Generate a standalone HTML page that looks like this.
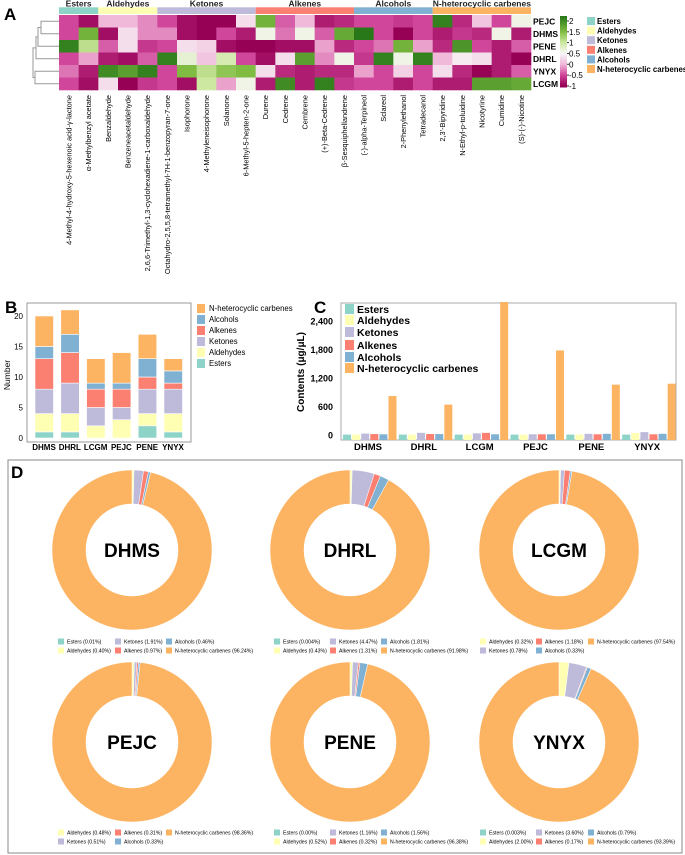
<!DOCTYPE html>
<html><head><meta charset="utf-8">
<style>
html,body{margin:0;padding:0;background:#fff;}
svg{display:block;font-family:"Liberation Sans",Arial,sans-serif;}
</style></head>
<body>
<svg id="fig" width="685" height="855" viewBox="0 0 685 855" xmlns="http://www.w3.org/2000/svg">
<text x="4" y="20" font-size="17" font-weight="bold">A</text>
<text x="5" y="313" font-size="17" font-weight="bold">B</text>
<text x="314" y="313" font-size="17" font-weight="bold">C</text>
<rect x="8" y="460" width="674" height="393" fill="none" stroke="#888" stroke-width="1"/>
<text x="11" y="478" font-size="17" font-weight="bold">D</text>
<g id="gA"></g><g id="gB"></g><g id="gC"></g><g id="gD"></g>
</svg>
<script>
// ---------- shared ----------
const classNames = ["Esters","Aldehydes","Ketones","Alkenes","Alcohols","N-heterocyclic carbenes"];
const classColors = ["#8dd3c7","#ffffb3","#bebada","#fb8072","#80b1d3","#fdb462"];
const samples = ["DHMS","DHRL","LCGM","PEJC","PENE","YNYX"];

// ---------- A: heatmap ----------
const hmRows = ["PEJC","DHMS","PENE","DHRL","YNYX","LCGM"];
const hmCols = ["4-Methyl-4-hydroxy-5-hexenoic acid-γ-lactone","α-Methylbenzyl acetate","Benzaldehyde","Benzeneacetaldehyde","2,6,6-Trimethyl-1,3-cyclohexadiene-1-carboxaldehyde","Octahydro-2,5,5,8-tetramethyl-7H-1-benzopyran-7-one","Isophorone","4-Methyleneisophorone","Solanone","6-Methyl-5-hepten-2-one","Durene","Cedrene","Cembrene","(+)-Beta-Cedrene","β-Sesquiphellandrene","(-)-alpha-Terpineol","Sclareol","2-Phenylethanol","Tetradecanol","2,3'-Bipyridine","N-Ethyl-p-toluidine","Nicotyrine","Cumidine","(S)-(-)-Nicotine"];
const hmColClass = [0,0,1,1,1,2,2,2,2,2,3,3,3,3,3,4,4,4,4,5,5,5,5,5];
const hmPEJC = [-0.5,-0.9,0,0,-0.2,-0.5,-0.9,-1,-1,0.3,1.6,-0.4,0,-0.8,-0.7,-0.5,-0.5,-0.6,-0.5,2.1,-0.7,0.1,-0.5,0.6];
const hmDHMS = [-0.5,1.6,-0.9,0.3,-0.2,-0.2,-0.9,-1,-0.5,-0.8,0.6,-0.3,0.6,-0.4,1.7,2.2,-0.5,-1,-0.5,-0.8,-0.6,-0.7,0.6,-0.8];
const hmPENE = [2.1,1.1,-0.4,0.3,-0.6,-0.5,0.3,0.2,-0.9,-1,-1,-0.9,-0.9,-0.1,-0.7,-0.5,-0.3,1.6,-0.1,-0.7,1.9,-0.5,-0.8,-0.4];
const hmDHRL = [-0.5,-0.1,-0.8,-0.9,-0.4,2.1,0.7,0.1,0.9,-0.5,-0.9,0.3,1.8,-0.2,0.6,-0.6,2.1,0.6,2.1,0,0.4,0.3,-0.8,-1];
const hmYNYX = [-0.3,-0.8,2,1.8,2.1,-0.5,1.5,1.1,1.4,1.5,0.3,-0.7,-0.8,-0.7,-0.7,-0.1,-0.5,0.2,-0.5,0.3,-0.7,-1,-0.8,-0.4];
const hmLCGM = [-0.5,-0.9,0.3,-1,-0.6,-0.5,-0.9,1,-0.1,0.6,-0.8,2,-0.8,2.1,-0.6,-0.5,-0.5,-0.8,-0.5,-0.8,-0.8,1.8,1.8,1.7];
const hmTicks = [2,1.5,1,0.5,0,-0.5,-1];

// ---------- B: stacked counts ----------
const cntEsters = [1,1,0,0,2,1];
const cntAldehydes = [3,3,2,3,2,3];
const cntKetones = [4,5,3,2,4,4];
const cntAlkenes = [5,5,3,3,2,1];
const cntAlcohols = [2,3,1,1,3,2];
const cntNhet = [5,4,4,5,4,2];
const bTicks = [0,5,10,15,20];

// ---------- C: contents ----------
const conEsters = [8,8,8,8,8,8];
const conAldehydes = [8,8,10,8,10,40];
const conKetones = [30,45,35,15,25,60];
const conAlkenes = [20,20,45,15,15,15];
const conAlcohols = [15,20,15,15,25,25];
const conNhet = [820,640,2800,1780,1060,1080];
const cTicks = [0,600,1200,1800,2400];

// ---------- D: donuts ----------
const dNames = ["DHMS","DHRL","LCGM","PEJC","PENE","YNYX"];
const pctDHMS = [0.01,0.40,1.91,0.97,0.46,96.24];
const pctDHRL = [0.004,0.43,4.47,1.31,1.81,91.98];
const pctLCGM = [0,0.32,0.78,1.18,0.33,97.54];
const pctPEJC = [0,0.48,0.51,0.31,0.33,98.36];
const pctPENE = [0.00,0.52,1.16,0.32,1.56,96.38];
const pctYNYX = [0.003,2.00,3.60,0.17,0.79,93.39];

const NS="http://www.w3.org/2000/svg";
function mk(parent,tag,attrs,text){const e=document.createElementNS(NS,tag);for(const k in attrs)e.setAttribute(k,attrs[k]);if(text!==undefined)e.textContent=text;parent.appendChild(e);return e;}

const cmStops=[[-1,[150,0,85]],[-0.5,[208,70,155]],[0,[240,185,218]],[0.5,[247,247,247]],[1,[205,232,160]],[1.5,[127,188,65]],[2.2,[40,120,25]]];
function cmap(v){if(v<=cmStops[0][0])return `rgb(${cmStops[0][1]})`;for(let i=1;i<cmStops.length;i++){if(v<=cmStops[i][0]){const a=cmStops[i-1],b=cmStops[i];const t=(v-a[0])/(b[0]-a[0]);const c=a[1].map((x,j)=>Math.round(x+(b[1][j]-x)*t));return `rgb(${c})`;}}return `rgb(${cmStops[cmStops.length-1][1]})`;}

// ---- Panel A ----
(function(){
const g=document.getElementById('gA');
const hm=[hmPEJC,hmDHMS,hmPENE,hmDHRL,hmYNYX,hmLCGM];
const x0=59,x1=531,y0=15,y1=90;
const cw=(x1-x0)/hmCols.length, rh=(y1-y0)/hmRows.length;
const xc=i=>x0+i*cw, yr=i=>y0+i*rh;
let start=0;
for(let c=0;c<classNames.length;c++){
  let n=hmColClass.filter(v=>v===c).length;
  const r=mk(g,'rect',{x:xc(start),y:7.3,width:n*cw,height:6.7,fill:classColors[c]});
  
  
  const t=mk(g,'text',{x:xc(start)+n*cw/2,y:6.5,'font-size':8.5,'text-anchor':'middle','font-weight':'bold',fill:'#222'},classNames[c]);
  
  
  start+=n;
}
hm.forEach((row,ri)=>{row.forEach((v,ci)=>{
  const r=mk(g,'rect',{x:xc(ci),y:yr(ri),width:cw+0.3,height:rh+0.3,fill:cmap(v)});
  
  
});
  const t=mk(g,'text',{x:x1+2,y:yr(ri)+rh/2+3,'font-size':8.5,'font-weight':'bold'},hmRows[ri]);
  
  
});
hmCols.forEach((c,ci)=>{
  const x=xc(ci)+cw/2+2.6;
  const t=mk(g,'text',{x:x,y:95,'font-size':7.4,'text-anchor':'end',transform:`rotate(-90 ${x} 95)`},c);
  
  
});
const ym=i=>yr(i)+rh/2;
const dg=mk(g,'g',{stroke:'#999','stroke-width':1,fill:'none'});


const a=(ym(0)+ym(1))/2, b=(a+ym(2))/2, c2=(b+ym(3))/2, d=(ym(4)+ym(5))/2;
mk(dg,'path',{d:`M59 ${ym(0)}H41V${ym(1)}H59 M41 ${a}H38V${ym(2)}H59 M38 ${b}H36V${ym(3)}H59 M59 ${ym(4)}H35V${ym(5)}H59 M36 ${c2}H33V${d}H35`});
const cbx=560,cby0=16,cby1=87,vmin=-1.05,vmax=2.23;
const cy=v=>cby1-(v-vmin)/(vmax-vmin)*(cby1-cby0);
for(let i=0;i<60;i++){const v=vmin+(vmax-vmin)*i/60;const r=mk(g,'rect',{x:cbx,y:cy(v+(vmax-vmin)/60),width:7,height:(cby1-cby0)/60+0.5,fill:cmap(v)});}
hmTicks.forEach(v=>{const t=mk(g,'text',{x:cbx+9,y:cy(v)+3,'font-size':8},String(v));mk(g,'line',{x1:cbx+7,x2:cbx+9,y1:cy(v),y2:cy(v),stroke:'#333'});});
classNames.forEach((n,i)=>{const y=17+i*9.6;const r=mk(g,'rect',{x:587,y:y,width:8,height:8,fill:classColors[i]});const t=mk(g,'text',{x:597,y:y+7,'font-size':7.8,'font-weight':'bold'},n);});
})();

// ---- Panel B ----
(function(){
const g=document.getElementById('gB');
const fx0=27,fx1=191,fy0=303,fy1=442;
const y=v=>438-v*(438-316)/20;
mk(g,'rect',{x:fx0,y:fy0,width:fx1-fx0,height:fy1-fy0,fill:'none',stroke:'#999'});
bTicks.forEach(v=>{const t=mk(g,'text',{x:fx0-4,y:y(v)+3,'font-size':8,'text-anchor':'end'},String(v));});
const yt=mk(g,'text',{x:10,y:375,'font-size':8.5,'text-anchor':'middle',transform:'rotate(-90 10 375)'},'Number');

const series=[cntEsters,cntAldehydes,cntKetones,cntAlkenes,cntAlcohols,cntNhet];
const bx=i=>35+i*25.8;
samples.forEach((s,i)=>{let acc=0;series.forEach((ser,k)=>{const v=ser[i];if(v>0){const r=mk(g,'rect',{x:bx(i),y:y(acc+v),width:18.5,height:y(acc)-y(acc+v),fill:classColors[k],stroke:'#fff','stroke-width':0.6});}acc+=v;});
const t=mk(g,'text',{x:bx(i)+9,y:450,'font-size':8,'text-anchor':'middle','font-weight':'bold'},s);});
const ly=[308,319,330,341,352,363];
for(let k=5;k>=0;k--){const yy=ly[5-k];const r=mk(g,'rect',{x:197,y:yy-4,width:8,height:9,fill:classColors[k]});const t=mk(g,'text',{x:209,y:yy+3,'font-size':7.8},classNames[k]);}
})();

// ---- Panel C ----
(function(){
const g=document.getElementById('gC');
const fx0=341,fx1=676,fy0=303,fy1=440;
const y=v=>435-v*(435-321)/2400;
mk(g,'rect',{x:fx0,y:fy0,width:fx1-fx0,height:fy1-fy0,fill:'none',stroke:'#aaa'});
cTicks.forEach(v=>{const t=mk(g,'text',{x:fx0-8,y:y(v)+3.5,'font-size':9,'font-weight':'bold','text-anchor':'end'},v.toLocaleString('en-US'));});
const yt=mk(g,'text',{x:304,y:372,'font-size':10,'font-weight':'bold','text-anchor':'middle',transform:'rotate(-90 304 372)'},'Contents (μg/μL)');

const series=[conEsters,conAldehydes,conKetones,conAlkenes,conAlcohols,conNhet];
const gw=(fx1-fx0)/6;
samples.forEach((s,i)=>{series.forEach((ser,k)=>{const x=fx0+2+i*gw+k*9.1;const r=mk(g,'rect',{x:x,y:y(ser[i]),width:8,height:fy1-y(ser[i]),fill:classColors[k]});});
const t=mk(g,'text',{x:fx0+i*gw+27,y:450,'font-size':9.5,'font-weight':'bold','text-anchor':'middle'},s);});
const ly=[309,320,332,345,357,368];
classNames.forEach((n,k)=>{const r=mk(g,'rect',{x:345,y:ly[k]-5,width:9,height:10,fill:classColors[k]});const t=mk(g,'text',{x:357,y:ly[k]+4,'font-size':10.5,'font-weight':'bold'},n);});
})();

// ---- Panel D ----
(function(){
const g=document.getElementById('gD');
const pcts=[pctDHMS,pctDHRL,pctLCGM,pctPEJC,pctPENE,pctYNYX];
const cxs=[132,350,559], cys=[550,742], R=80, r0=46;
const legY=[[643,652],[834,843]];
const legX=[[58,115,166],[274,330,381],[480,536,588]];
function fmt(v){return (v===0?'0.00':String(v).includes('.')&&String(v).split('.')[1].length>=2?String(v):v.toFixed(2));}
pcts.forEach((p,idx)=>{
  const col=idx%3,row=Math.floor(idx/3),cx=cxs[col],cy=cys[row];
  const tot=p.reduce((a,b)=>a+b,0);let ang=-Math.PI/2;
  p.forEach((v,k)=>{if(v<=0)return;const a2=ang+v/tot*2*Math.PI;const large=(a2-ang)>Math.PI?1:0;
    const d=`M${cx+R*Math.cos(ang)} ${cy+R*Math.sin(ang)}A${R} ${R} 0 ${large} 1 ${cx+R*Math.cos(a2)} ${cy+R*Math.sin(a2)}L${cx+r0*Math.cos(a2)} ${cy+r0*Math.sin(a2)}A${r0} ${r0} 0 ${large} 0 ${cx+r0*Math.cos(ang)} ${cy+r0*Math.sin(ang)}Z`;
    const s=mk(g,'path',{d:d,fill:classColors[k],stroke:'#fff','stroke-width':0.5});
    
    
    ang=a2;});
  mk(g,'circle',{cx:cx,cy:cy,r:r0,fill:'#fff'});
  const t=mk(g,'text',{x:cx,y:cy+7,'font-size':19,'font-weight':'bold','text-anchor':'middle'},dNames[idx]);
  
  
  const items=[];p.forEach((v,k)=>{if(!(v===0&&(idx===2||idx===3)))items.push(k);});
  let layout;
  if(items.length===6) layout=[[0,2,4],[1,3,5]]; else layout=[[1,3,5],[2,4]];
  layout.forEach((rowItems,ri)=>rowItems.forEach((k,ci)=>{
    const x=legX[col][ci],yy=legY[row][ri];
    const r=mk(g,'rect',{x:x,y:yy-4.5,width:6,height:6,fill:classColors[k]});
    
    
    const t2=mk(g,'text',{x:x+9,y:yy+0.5,'font-size':5.2},classNames[k]+' ('+fmt(p[k])+'%)');
    
    
  }));
});
})();
</script>
</body></html>
